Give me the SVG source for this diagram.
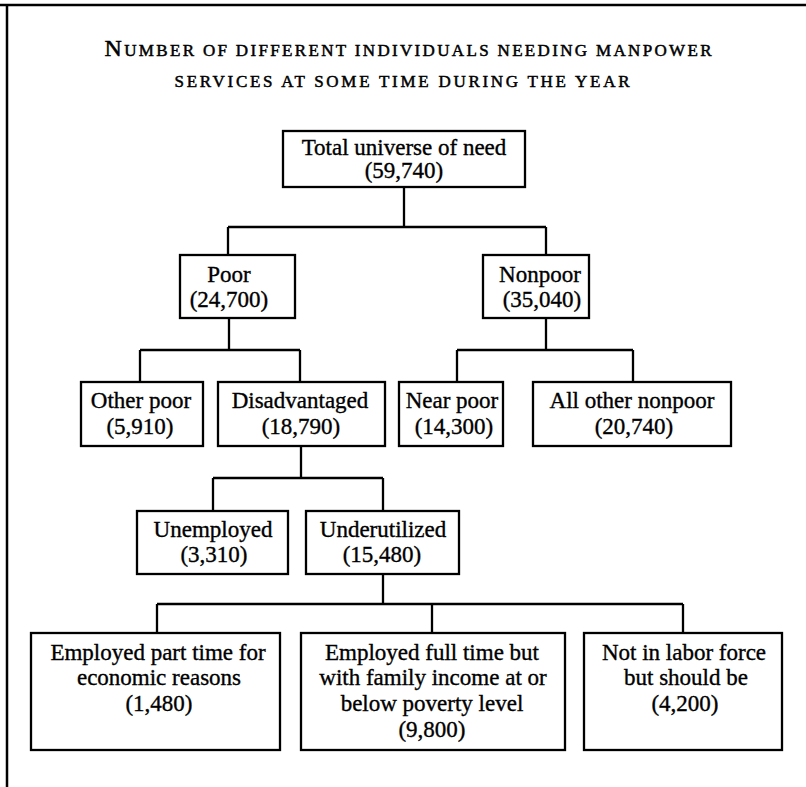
<svg xmlns="http://www.w3.org/2000/svg" width="806" height="787" viewBox="0 0 806 787">
<style>
.box{fill:#fff;stroke:#000;stroke-width:2.3}
.lbl{font-family:"Liberation Serif","Times New Roman",serif;font-size:23px;text-anchor:middle;fill:#000;stroke:#000;stroke-width:0.35}
.ttl{font-family:"Liberation Serif","Times New Roman",serif;font-size:17px;text-anchor:middle;fill:#000;stroke:#000;stroke-width:0.5}
.big{font-size:24px}
.conn path{fill:none;stroke:#000;stroke-width:2.3}
.frame{fill:none;stroke:#000;stroke-width:2.5}
</style>
<rect width="806" height="787" fill="#fff"/>
<path class="frame" d="M0 5 H806 M7 5 V787"/>
<g id="title">
<text class="ttl" x="408" y="56" textLength="607" lengthAdjust="spacing"><tspan class="big">N</tspan>UMBER OF DIFFERENT INDIVIDUALS NEEDING MANPOWER</text>
<text class="ttl" x="402" y="87" textLength="455" lengthAdjust="spacing">SERVICES AT SOME TIME DURING THE YEAR</text>
</g>
<g class="conn" id="connectors">
<path d="M404 188 V227 M228 227 H546 M228 227 V255 M546 227 V255"/>
<path d="M229 318 V350 M140 350 H300 M140 350 V382 M300 350 V382"/>
<path d="M546 318 V350 M457 350 H633 M457 350 V382 M633 350 V382"/>
<path d="M301 446 V478 M213 478 H383 M213 478 V511 M383 478 V511"/>
<path d="M383 574 V604 M157 604 H683 M157 604 V633 M432 604 V633 M683 604 V633"/>
</g>
<g id="total">
<rect class="box" x="283" y="131" width="242" height="56"/>
<text class="lbl" x="404" y="155">Total universe of need</text>
<text class="lbl" x="404" y="178">(59,740)</text>
</g>
<g id="poor">
<rect class="box" x="180" y="255" width="115" height="63"/>
<text class="lbl" x="229" y="282">Poor</text>
<text class="lbl" x="229" y="307">(24,700)</text>
</g>
<g id="nonpoor">
<rect class="box" x="483" y="255" width="106" height="63"/>
<text class="lbl" x="540" y="282">Nonpoor</text>
<text class="lbl" x="542" y="307">(35,040)</text>
</g>
<g id="other-poor">
<rect class="box" x="81" y="382" width="122" height="64"/>
<text class="lbl" x="141" y="408">Other poor</text>
<text class="lbl" x="140" y="434">(5,910)</text>
</g>
<g id="disadvantaged">
<rect class="box" x="218" y="382" width="167" height="64"/>
<text class="lbl" x="300" y="408">Disadvantaged</text>
<text class="lbl" x="301" y="434">(18,790)</text>
</g>
<g id="near-poor">
<rect class="box" x="399" y="382" width="104" height="64"/>
<text class="lbl" x="452" y="408">Near poor</text>
<text class="lbl" x="454" y="434">(14,300)</text>
</g>
<g id="all-other-nonpoor">
<rect class="box" x="533" y="382" width="198" height="64"/>
<text class="lbl" x="632" y="408">All other nonpoor</text>
<text class="lbl" x="634" y="434">(20,740)</text>
</g>
<g id="unemployed">
<rect class="box" x="137" y="511" width="151" height="63"/>
<text class="lbl" x="213" y="537">Unemployed</text>
<text class="lbl" x="214" y="562">(3,310)</text>
</g>
<g id="underutilized">
<rect class="box" x="306" y="511" width="153" height="63"/>
<text class="lbl" x="383" y="537">Underutilized</text>
<text class="lbl" x="382" y="562">(15,480)</text>
</g>
<g id="part-time">
<rect class="box" x="31" y="633" width="249" height="117"/>
<text class="lbl" x="158" y="660">Employed part time for</text>
<text class="lbl" x="159" y="685">economic reasons</text>
<text class="lbl" x="159" y="711">(1,480)</text>
</g>
<g id="full-time">
<rect class="box" x="301" y="633" width="264" height="117"/>
<text class="lbl" x="432" y="660">Employed full time but</text>
<text class="lbl" x="433" y="685">with family income at or</text>
<text class="lbl" x="432" y="711">below poverty level</text>
<text class="lbl" x="432" y="737">(9,800)</text>
</g>
<g id="not-in-labor-force">
<rect class="box" x="584" y="633" width="198" height="117"/>
<text class="lbl" x="684" y="660">Not in labor force</text>
<text class="lbl" x="686" y="685">but should be</text>
<text class="lbl" x="685" y="711">(4,200)</text>
</g>
</svg>
